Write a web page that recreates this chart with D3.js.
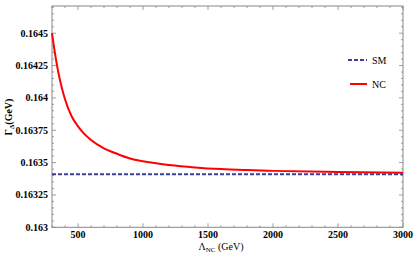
<!DOCTYPE html>
<html><head><meta charset="utf-8">
<script src="https://cdn.jsdelivr.net/npm/d3@7"></script>
<style>body{margin:0;background:#fff}svg{display:block}</style>
</head><body>
<script>
const lambdaNC = [300,325,350,375,400,450,500,550,600,700,800,900,1000,1200,1400,1600,1800,2000,2500,3000];
const gammaNC  = [0.16450,0.16433,0.16419,0.16408,0.16399,0.16386,0.16378,0.16372,0.163675,0.16361,0.163568,0.163532,0.16351,0.163482,0.163463,0.16345,0.163442,0.163436,0.163427,0.163422];
const smValue = 0.16341;
const xTicks = [500,1000,1500,2000,2500,3000];
const yTicks = [0.163,0.16325,0.1635,0.16375,0.164,0.16425,0.1645];
const yTickLabels = ["0.163","0.16325","0.1635","0.16375","0.164","0.16425","0.1645"];
const legendItems = ["SM","NC"];

const W=415,H=259;
const m={l:52,r:12,t:6,b:32};
const svg=d3.select("body").append("svg").attr("width",W).attr("height",H);
const x=d3.scaleLinear().domain([300,3000]).range([m.l,W-m.r]);
const y=d3.scaleLinear().domain([0.163,0.16471]).range([H-m.b+0.3,m.t]);
const font="'Liberation Serif','Times New Roman',serif";
const frameCol="#888";

svg.append("rect").attr("x",m.l).attr("y",m.t).attr("width",W-m.r-m.l).attr("height",H-m.b+0.3-m.t)
  .attr("fill","none").attr("stroke",frameCol).attr("stroke-width",1);

const xMinor=d3.range(300,3001,100);
const yMinor=d3.range(0,35).map(i=>0.163+i*0.00005).filter(v=>v<=0.16471);
const tg=svg.append("g").attr("stroke",frameCol).attr("stroke-width",0.8);
xMinor.forEach(v=>{
  const major=xTicks.includes(v);const L=major?4:2;
  tg.append("line").attr("x1",x(v)).attr("x2",x(v)).attr("y1",y.range()[0]).attr("y2",y.range()[0]-L);
  tg.append("line").attr("x1",x(v)).attr("x2",x(v)).attr("y1",m.t).attr("y2",m.t+L);
});
yMinor.forEach((v,i)=>{
  const major=i%5===0;const L=major?4:2;
  tg.append("line").attr("x1",m.l).attr("x2",m.l+L).attr("y1",y(v)).attr("y2",y(v));
  tg.append("line").attr("x1",W-m.r).attr("x2",W-m.r-L).attr("y1",y(v)).attr("y2",y(v));
});

svg.append("g").selectAll("text").data(xTicks).join("text")
  .attr("x",d=>x(d)).attr("y",238).attr("text-anchor","middle")
  .attr("font-family",font).attr("font-weight","bold").attr("font-size",10).text(d=>d);
svg.append("g").selectAll("text").data(yTicks).join("text")
  .attr("x",m.l-4).attr("y",d=>y(d)+3.5).attr("text-anchor","end")
  .attr("font-family",font).attr("font-weight","bold").attr("font-size",10).text((d,i)=>yTickLabels[i]);

const xl=svg.append("text").attr("x",221).attr("y",250).attr("text-anchor","middle")
  .attr("font-family",font).attr("font-size",10);
xl.append("tspan").text("Λ");
xl.append("tspan").attr("font-size",7).attr("dy",2).text("NC");
xl.append("tspan").attr("dy",-2).text(" (GeV)");
const yl=svg.append("text").attr("transform","translate(12,117) rotate(-90)").attr("text-anchor","middle")
  .attr("font-family",font).attr("font-weight","bold").attr("font-size",10);
yl.append("tspan").text("Γ");
yl.append("tspan").attr("font-size",7).attr("dy",2).text("Δ");
yl.append("tspan").attr("dy",-2).text("(GeV)");

svg.append("line").attr("x1",x(300)).attr("x2",x(3000)).attr("y1",y(smValue)).attr("y2",y(smValue))
  .attr("stroke","#3c3c9c").attr("stroke-width",2).attr("stroke-dasharray","4,2");
const line=d3.line().x(d=>x(d[0])).y(d=>y(d[1])).curve(d3.curveMonotoneX);
svg.append("path").datum(lambdaNC.map((l,i)=>[l,gammaNC[i]])).attr("d",line)
  .attr("fill","none").attr("stroke","#ff0000").attr("stroke-width",2);

const lg=svg.append("g");
lg.append("line").attr("x1",348).attr("x2",367).attr("y1",60).attr("y2",60)
  .attr("stroke","#3c3c9c").attr("stroke-width",2).attr("stroke-dasharray","4,2");
lg.append("line").attr("x1",350).attr("x2",367).attr("y1",84).attr("y2",84)
  .attr("stroke","#ff0000").attr("stroke-width",2);
lg.selectAll("text").data(legendItems).join("text").attr("x",372).attr("y",(d,i)=>[63.5,87.5][i])
  .attr("font-family",font).attr("font-size",10).text(d=>d);
</script>
</body></html>
